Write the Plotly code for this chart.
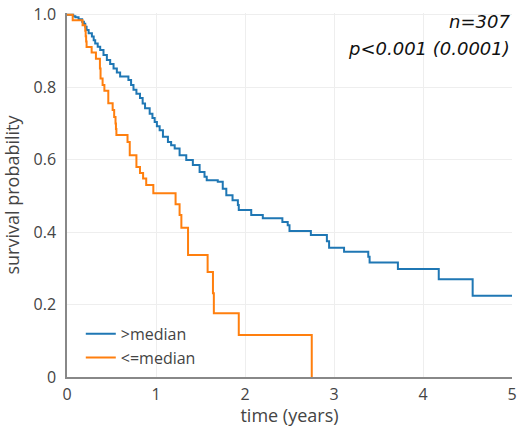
import plotly.graph_objects as go

# >median group (blue)
t_high = [0, 0.07, 0.094, 0.13, 0.17, 0.19, 0.205, 0.22, 0.243, 0.28, 0.30, 0.317, 0.345,
          0.373, 0.41, 0.448, 0.485, 0.523, 0.56, 0.597, 0.69, 0.72, 0.747, 0.78, 0.82,
          0.85, 0.877, 0.929, 0.96, 0.985, 1.01, 1.041, 1.078, 1.134, 1.17, 1.21, 1.265,
          1.34, 1.414, 1.49, 1.545, 1.57, 1.694, 1.75, 1.79, 1.86, 1.92, 1.93, 2.07, 2.2,
          2.42, 2.48, 2.5, 2.74, 2.92, 2.945, 3.113, 3.385, 3.40, 3.718, 4.177, 4.558, 5.0]
s_high = [1.0, 0.996, 0.993, 0.988, 0.981, 0.975, 0.967, 0.958, 0.949, 0.94, 0.93, 0.921, 0.912,
          0.903, 0.889, 0.875, 0.864, 0.852, 0.841, 0.83, 0.82, 0.806, 0.793, 0.782, 0.77,
          0.755, 0.742, 0.727, 0.715, 0.704, 0.692, 0.681, 0.663, 0.649, 0.64, 0.631, 0.612,
          0.599, 0.585, 0.566, 0.553, 0.543, 0.539, 0.52, 0.502, 0.488, 0.475, 0.461, 0.447, 0.438,
          0.428, 0.419, 0.403, 0.392, 0.375, 0.357, 0.346, 0.332, 0.316, 0.298, 0.27, 0.224, 0.224]

# <=median group (orange)
t_low = [0, 0.064, 0.175, 0.205, 0.21, 0.215, 0.22, 0.277, 0.325, 0.37, 0.377, 0.40, 0.42,
         0.464, 0.513, 0.53, 0.545, 0.55, 0.555, 0.68, 0.705, 0.78, 0.82, 0.855, 0.89, 0.97,
         1.22, 1.265, 1.285, 1.36, 1.58, 1.64, 1.65, 1.93, 2.75]
s_low = [1.0, 0.985, 0.971, 0.956, 0.941, 0.926, 0.911, 0.896, 0.879, 0.852, 0.824, 0.806, 0.79,
         0.756, 0.737, 0.718, 0.70, 0.685, 0.668, 0.649, 0.612, 0.58, 0.563, 0.548, 0.53, 0.507,
         0.477, 0.447, 0.412, 0.337, 0.29, 0.231, 0.176, 0.116, 0.0]

x_ticks = [0, 1, 2, 3, 4, 5]
y_ticks = [0, 0.2, 0.4, 0.6, 0.8, 1.0]
y_ticklabels = ["0", "0.2", "0.4", "0.6", "0.8", "1.0"]

fig = go.Figure()
fig.add_trace(go.Scatter(x=t_high, y=s_high, mode="lines", line_shape="hv",
                         line=dict(color="#1f77b4", width=2), name=">median"))
fig.add_trace(go.Scatter(x=t_low, y=s_low, mode="lines", line_shape="hv",
                         line=dict(color="#ff7f0e", width=2), name="<=median"))

fig.add_annotation(text="<i>n=307</i>", xref="paper", yref="paper", x=1.0, y=0.977,
                   xanchor="right", yanchor="middle", showarrow=False,
                   font=dict(family="DejaVu Sans", size=18, color="#111"))
fig.add_annotation(text="<i>p<0.001 (0.0001)</i>", xref="paper", yref="paper", x=1.0, y=0.903,
                   xanchor="right", yanchor="middle", showarrow=False,
                   font=dict(family="DejaVu Sans", size=18, color="#111"))

fig.update_layout(
    width=517, height=427,
    margin=dict(l=67, r=5, t=13, b=50),
    paper_bgcolor="white", plot_bgcolor="white",
    font=dict(family="Open Sans", size=16, color="#444"),
    showlegend=True,
    legend=dict(x=0.031, y=0.006, xanchor="left", yanchor="bottom",
                bgcolor="rgba(0,0,0,0)", font=dict(size=16)),
    xaxis=dict(range=[0, 5], tickvals=x_ticks, showgrid=True, gridcolor="#eee",
               zeroline=False, showline=True, linecolor="#888", linewidth=1.5,
               ticks="outside", ticklen=2, tickcolor="rgba(0,0,0,0)", automargin=False,
               ticklabeloverflow="allow",
               title=dict(text="time (years)", font=dict(size=18))),
    yaxis=dict(range=[0, 1.005], tickvals=y_ticks, ticktext=y_ticklabels, showgrid=True,
               gridcolor="#eee", zeroline=False, showline=True, linecolor="#888",
               linewidth=1.5, ticks="outside", ticklen=6, tickcolor="rgba(0,0,0,0)",
               automargin=False, ticklabeloverflow="allow",
               title=dict(text="survival probability", font=dict(size=18))),
)

fig.write_html("out.html", config={"displayModeBar": False},
               post_script="document.body.style.margin='0';")
